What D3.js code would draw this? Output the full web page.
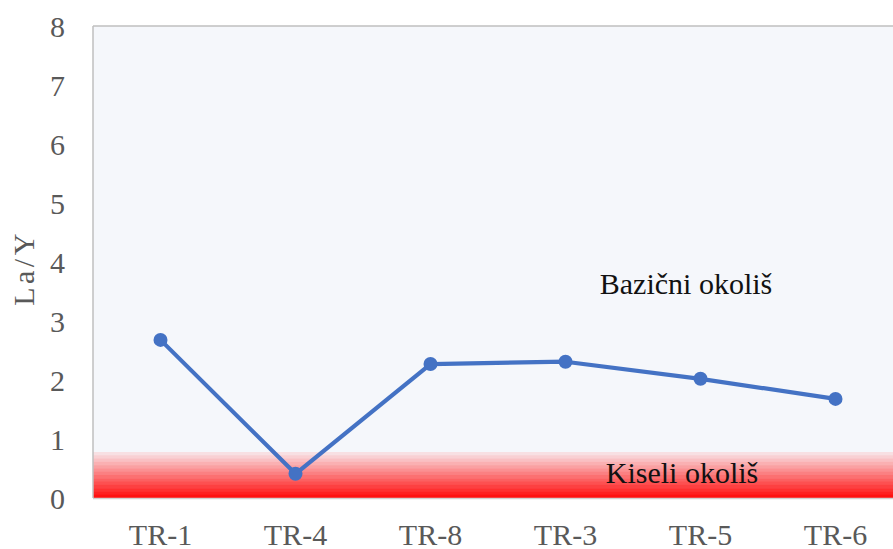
<!DOCTYPE html>
<html>
<head>
<meta charset="utf-8">
<script src="https://cdn.jsdelivr.net/npm/d3@7/dist/d3.min.js"></script>
</head>
<body style="margin:0">
<svg id="chart" width="893" height="549" font-family="Liberation Serif"></svg>
<script>
// Samples along the profile and their La/Y ratios
const samples = ["TR-1", "TR-4", "TR-8", "TR-3", "TR-5", "TR-6"];
const laY = [2.68, 0.41, 2.27, 2.31, 2.02, 1.68];

// Value-axis ticks
const yTicks = [0, 1, 2, 3, 4, 5, 6, 7, 8];

// Acidic zone band (La/Y range) and the zone captions
const acidBand = [0, 0.78];
const zoneLabels = ["Bazični okoliš", "Kiseli okoliš"];
const zoneValues = [3.45, 0.25];

const svg = d3.select("#chart");
const W = 893, H = 549;
const margin = { left: 93, top: 26, bottom: 51 };
const plotRight = 903; // plot runs slightly past the canvas edge

const x = d3.scaleBand().domain(samples).range([margin.left, plotRight]).padding(0);
const y = d3.scaleLinear().domain([0, 8]).range([H - margin.bottom, margin.top]);

// Plot background
svg.append("rect")
  .attr("x", margin.left).attr("y", y(8))
  .attr("width", plotRight - margin.left).attr("height", y(0) - y(8))
  .attr("fill", "#f5f7fb");

// Stepped red band for the acidic environment
const steps = 14;
const bandTop = y(acidBand[1]), bandBot = y(acidBand[0]);
const stepH = (bandBot - bandTop) / steps;
const col = d3.interpolateRgb("#f8e0e3", "#ff1010");
for (let i = 0; i < steps; i++) {
  svg.append("rect")
    .attr("x", margin.left)
    .attr("y", bandTop + i * stepH)
    .attr("width", plotRight - margin.left)
    .attr("height", stepH + 0.5)
    .attr("fill", col(i / (steps - 1)));
}

// Plot frame
svg.append("line")
  .attr("x1", margin.left).attr("x2", plotRight)
  .attr("y1", y(8)).attr("y2", y(8))
  .attr("stroke", "#bfbfbf").attr("stroke-width", 1.5);
svg.append("line")
  .attr("x1", margin.left).attr("x2", margin.left)
  .attr("y1", y(8)).attr("y2", y(0))
  .attr("stroke", "#bfbfbf").attr("stroke-width", 1.5);
svg.append("line")
  .attr("x1", margin.left).attr("x2", plotRight)
  .attr("y1", y(0) + 0.5).attr("y2", y(0) + 0.5)
  .attr("stroke", "#d0d0d0").attr("stroke-width", 1.5);

// Y axis
const yAxis = d3.axisLeft(y).tickValues(yTicks).tickSize(0).tickPadding(28);
const gy = svg.append("g").attr("transform", `translate(${margin.left},0)`).call(yAxis);
gy.attr("font-family", "Liberation Serif").attr("font-size", 30);
gy.select(".domain").remove();
gy.selectAll("text")
  .attr("fill", "#595959")
  .attr("dy", "0.34em");

// X axis
const xAxis = d3.axisBottom(x).tickSize(0).tickPadding(0);
const gx = svg.append("g").attr("transform", `translate(0,${y(0)})`).call(xAxis);
gx.attr("font-family", "Liberation Serif").attr("font-size", 30);
gx.select(".domain").remove();
gx.selectAll("text")
  .attr("fill", "#595959")
  .attr("dy", null)
  .attr("y", 47);

// Y axis title
svg.append("text")
  .attr("transform", `translate(34,${(y(0) + y(8)) / 2 + 6}) rotate(-90)`)
  .attr("text-anchor", "middle")
  .attr("fill", "#595959")
  .attr("font-size", 30)
  .attr("letter-spacing", 3.5)
  .text("La/Y");

// Series line and markers
const pts = samples.map((s, i) => [x(s) + x.bandwidth() / 2, y(laY[i])]);
svg.append("path")
  .attr("d", d3.line()(pts))
  .attr("fill", "none")
  .attr("stroke", "#4472c4")
  .attr("stroke-width", 4.2)
  .attr("stroke-linejoin", "round");
svg.selectAll("circle.pt").data(pts).enter().append("circle")
  .attr("class", "pt")
  .attr("cx", d => d[0]).attr("cy", d => d[1])
  .attr("r", 7)
  .attr("fill", "#4472c4");

// Zone captions
svg.append("text")
  .attr("x", 686).attr("y", y(zoneValues[0]))
  .attr("text-anchor", "middle")
  .attr("fill", "#111111")
  .attr("font-size", 30)
  .text(zoneLabels[0]);
svg.append("text")
  .attr("x", 682).attr("y", y(zoneValues[1]))
  .attr("text-anchor", "middle")
  .attr("fill", "#111111")
  .attr("font-size", 30)
  .text(zoneLabels[1]);
</script>
</body>
</html>
